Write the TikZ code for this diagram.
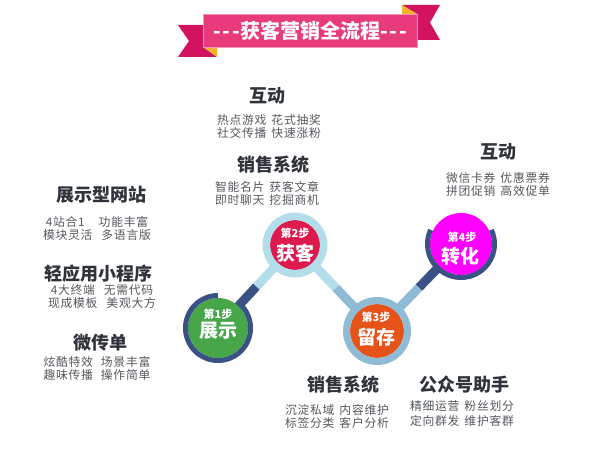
\documentclass[tikz,border=0pt]{standalone}
\usepackage{fontspec}
\setmainfont{Noto Sans CJK SC}
\usetikzlibrary{calc,backgrounds}
\definecolor{navyc}{HTML}{3A5184}
\definecolor{lblue}{HTML}{B3DDE9}
\definecolor{mblue}{HTML}{8FBCD4}
\definecolor{greenc}{HTML}{47A64A}
\definecolor{redc}{HTML}{DD1A4D}
\definecolor{orangec}{HTML}{E5531A}
\definecolor{magc}{HTML}{FF00FF}
\definecolor{headc}{HTML}{2F343B}
\definecolor{bodyc}{HTML}{55595E}
\definecolor{bannerc}{HTML}{E73B7B}
\definecolor{tailc}{HTML}{D3135F}
\definecolor{foldc}{HTML}{F6B32B}
\newcommand\phgap{\hspace{5pt}}
\newcommand\dsh{-\kern2pt-\kern2pt-}
\begin{document}
\begin{tikzpicture}[x=1pt,y=1pt,
  head/.style={font=\bfseries\fontsize{18}{20}\selectfont, text=headc, inner sep=0pt},
  body/.style={font=\fontsize{11.8}{13}\selectfont\addfontfeatures{LetterSpace=6}, text=bodyc, align=center, inner sep=0pt},
  body15/.style={body, font=\fontsize{11.8}{15}\selectfont\addfontfeatures{LetterSpace=6}},
  stepdisc/.style={circle, inner sep=0pt, minimum size=#1},
  steplabel/.style={font=\bfseries\fontsize{11}{12}\selectfont, text=white, inner sep=0pt},
  stepname/.style={font=\bfseries\fontsize{19}{20}\selectfont, text=white, inner sep=0pt},
  stick/.style={line width=9pt},
  bannerbox/.style={fill=bannerc, draw=bannerc!55!white, line width=0.8pt, minimum width=214pt, minimum height=33pt, inner sep=0pt, text=white, font=\bfseries\fontsize{20}{22}\selectfont}]
\useasboundingbox (0,0) rectangle (600,472);

% banner
\fill[tailc] (178,447) -- (203,447) -- (203,425) -- (217,415) -- (178,415) -- (189,431) -- cycle;
\fill[foldc] (203,425) -- (217,425) -- (217,415) -- cycle;
\fill[tailc] (402,467) -- (440,467) -- (430,449.5) -- (440,432) -- (417,432) -- (417,458) -- cycle;
\fill[foldc] (402,467) -- (417,458) -- (402,458) -- cycle;
\node[bannerbox] (title) at (310,441.5) {\dsh 获客营销全流程\dsh};

% step discs
\node[stepdisc=60pt, fill=greenc] (c1) at (218,144) {};
\node[stepdisc=50pt, fill=redc] (c2) at (295,227) {};
\node[stepdisc=54pt, fill=orangec] (c3) at (377,141) {};
\node[stepdisc=62pt, fill=magc] (c4) at (461,228) {};

\begin{scope}[on background layer]
  \fill[white] (0,0) rectangle (600,472);
  \draw[stick, navyc] (c1.center) -- ($(c1.center)!0.5!(c2.center)$);
  \draw[stick, lblue] ($(c1.center)!0.5!(c2.center)$) -- (c2.center);
  \draw[stick, lblue] (c2.center) -- ($(c2.center)!0.5!(c3.center)$);
  \draw[stick, mblue] ($(c2.center)!0.5!(c3.center)$) -- (c3.center);
  \draw[stick, mblue] (c3.center) -- ($(c3.center)!0.5!(c4.center)$);
  \draw[stick, navyc] ($(c3.center)!0.5!(c4.center)$) -- (c4.center);
\end{scope}

% rings
\draw[navyc, line width=5pt] ($(c1.center)+(90:32.5)$) arc[start angle=90, end angle=408, radius=32.5];
\draw[lblue, line width=7.5pt] (c2.center) circle[radius=28.7];
\draw[mblue, line width=7pt] (c3.center) circle[radius=30.5];
\draw[navyc, line width=5pt] ($(c4.center)+(155:33.5)$) arc[start angle=155, end angle=385, radius=33.5];

% step texts
\node[steplabel] (s1) at (218,158) {第1步};
\node[stepname] (n1) at (218,141) {展示};
\node[steplabel] (s2) at (295,239) {第2步};
\node[stepname] (n2) at (295,219) {获客};
\node[steplabel] (s3) at (376,155) {第3步};
\node[stepname] (n3) at (376,135) {留存};
\node[steplabel] (s4) at (462,235) {第4步};
\node[stepname] (n4) at (460,216) {转化};

% text blocks
\node[head] (h1) at (267,376) {互动};
\node[body] (b1) at (269,345.5) {热点游戏\phgap 花式抽奖\\社交传播\phgap 快速涨粉};
\node[head] (h2) at (273,307) {销售系统};
\node[body] (b2) at (267,278.5) {智能名片\phgap 获客文章\\即时聊天\phgap 挖掘商机};
\node[head] (h3) at (101,277) {展示型网站};
\node[body] (b3) at (97,244) {4站合1\hspace{14pt}功能丰富\\模块灵活\hspace{9pt}多语言版};
\node[head] (h4) at (98,198) {轻应用小程序};
\node[body] (b4) at (102,175.5) {4大终端\hspace{9pt}无需代码\\现成模板\hspace{9pt}美观大方};
\node[head] (h5) at (100,129) {微传单};
\node[body] (b5) at (97,103.5) {炫酷特效\hspace{8pt}场景丰富\\趣味传播\hspace{8pt}操作简单};
\node[head] (h6) at (498,320) {互动};
\node[body] (b6) at (498,287.5) {微信卡券\phgap 优惠票券\\拼团促销\phgap 高效促单};
\node[head] (h7) at (343,87) {销售系统};
\node[body] (b7) at (337,55.5) {沉淀私域\phgap 内容维护\\标签分类\phgap 客户分析};
\node[head] (h8) at (464,87) {公众号助手};
\node[body15] (b8) at (462,58.5) {精细运营\phgap 粉丝划分\\定向群发\phgap 维护客群};
\end{tikzpicture}
\end{document}
